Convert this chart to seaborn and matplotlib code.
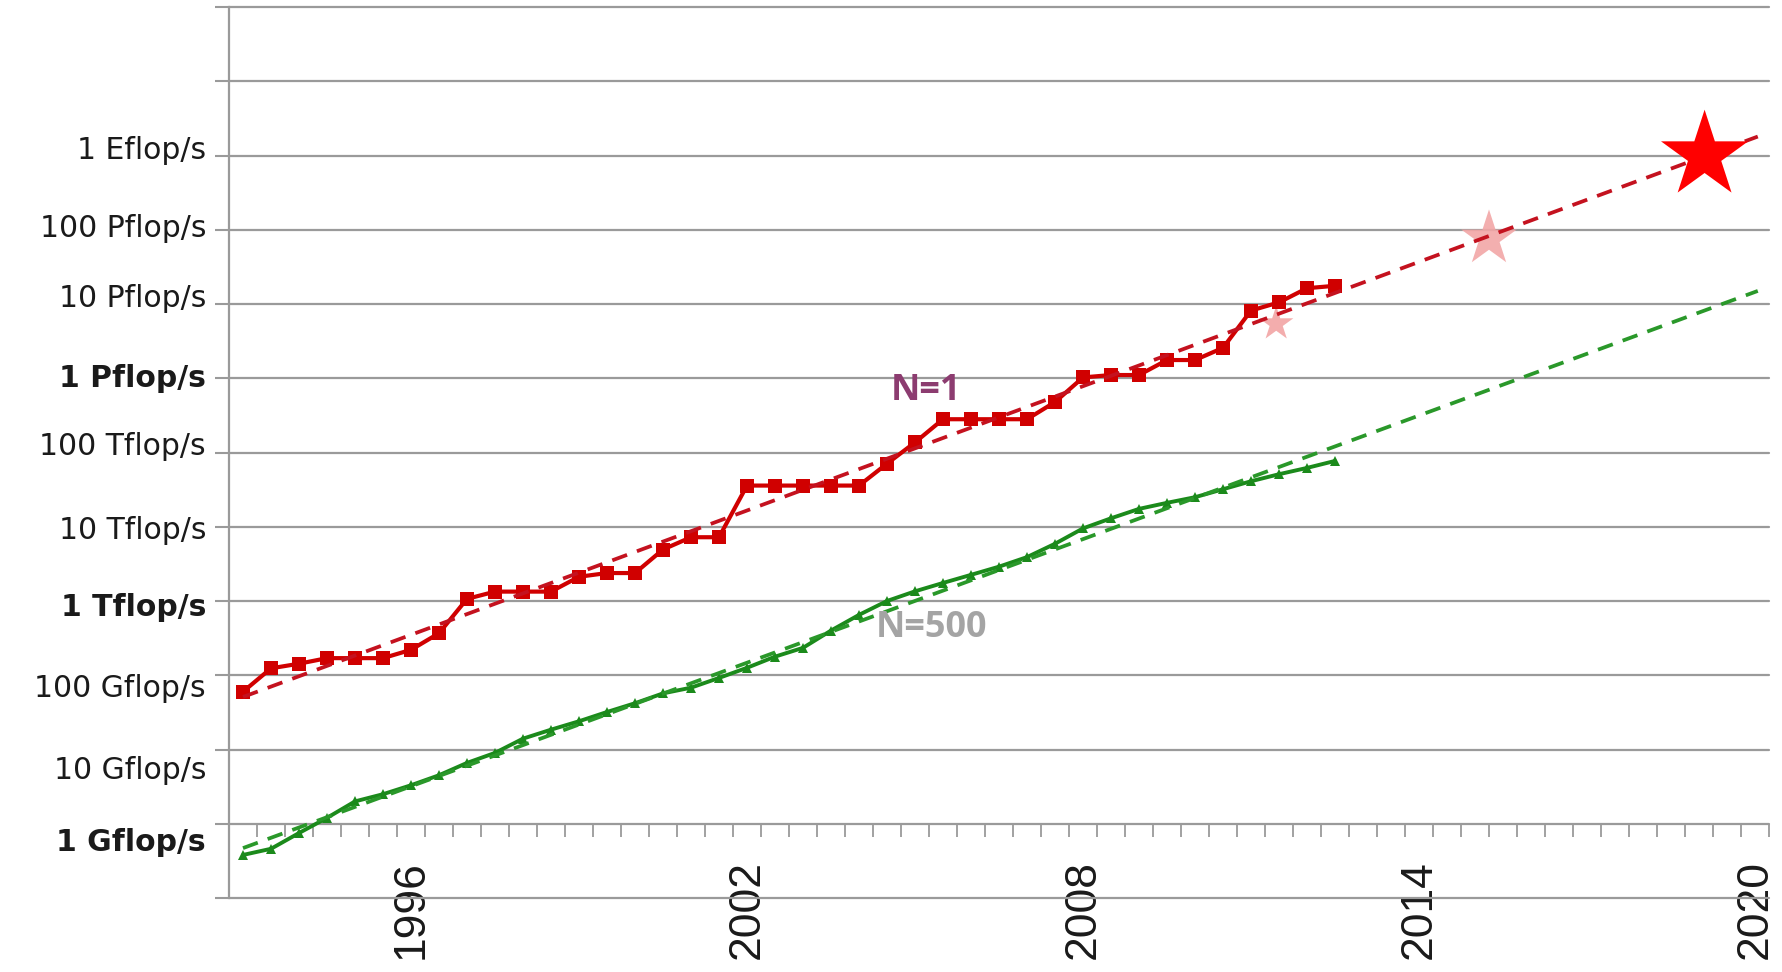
import matplotlib
matplotlib.use("Agg")
import matplotlib.pyplot as plt
from matplotlib.ticker import FixedLocator, NullLocator
from matplotlib.transforms import ScaledTranslation
import seaborn as sns

# TOP500 list editions (June list = .0, November list = .5)
list_dates = [
    1993.0, 1993.5, 1994.0, 1994.5, 1995.0, 1995.5, 1996.0, 1996.5,
    1997.0, 1997.5, 1998.0, 1998.5, 1999.0, 1999.5, 2000.0, 2000.5,
    2001.0, 2001.5, 2002.0, 2002.5, 2003.0, 2003.5, 2004.0, 2004.5,
    2005.0, 2005.5, 2006.0, 2006.5, 2007.0, 2007.5, 2008.0, 2008.5,
    2009.0, 2009.5, 2010.0, 2010.5, 2011.0, 2011.5, 2012.0, 2012.5,
]

# Rmax of the #1 system (Gflop/s)
n1_gflops = [
    60, 124, 143, 170, 170, 170, 220, 368,
    1068, 1338, 1338, 1338, 2121, 2379, 2379, 4938,
    7226, 7226, 35860, 35860, 35860, 35860, 35860, 70720,
    136800, 280600, 280600, 280600, 280600, 478200, 1026000, 1105000,
    1105000, 1759000, 1759000, 2566000, 8162000, 10510000, 16320000, 17590000,
]

# Rmax of the #500 system (Gflop/s)
n500_gflops = [
    0.38, 0.46, 0.75, 1.2, 2.0, 2.5, 3.3, 4.5,
    6.6, 9.0, 14, 18.5, 24, 32, 42, 57,
    68, 92, 126, 178, 234, 400, 650, 1000,
    1350, 1750, 2250, 2900, 3900, 5900, 9500, 13000,
    17400, 21000, 25000, 32000, 41000, 51000, 62000, 77000,
]

# Exponential trend lines (end points)
trend_dates = [1993.0, 2020.05]
n1_trend = [51, 1.8e9]
n500_trend = [0.47, 1.5e7]

# Projected milestones on the #1 trend
star_dates = [2011.45, 2015.25, 2019.1]
star_gflops = [5.4e6, 7.6e7, 1.0e9]

# Performance axis (Gflop/s)
perf_ticks = [0.1, 1, 10, 100, 1e3, 1e4, 1e5, 1e6, 1e7, 1e8, 1e9, 1e10, 1e11]
perf_labels = ["", "1 Gflop/s", "10 Gflop/s", "100 Gflop/s", "1 Tflop/s",
               "10 Tflop/s", "100 Tflop/s", "1 Pflop/s", "10 Pflop/s",
               "100 Pflop/s", "1 Eflop/s", "", ""]
bold_labels = {"1 Gflop/s", "1 Tflop/s", "1 Pflop/s"}

year_ticks = [1996, 2002, 2008, 2014, 2020]
year_labels = ["1996", "2002", "2008", "2014", "2020"]

# ---------------------------------------------------------------- style
sns.set_theme(style="white")
plt.rcParams["font.family"] = ["DejaVu Sans"]

RED = "#D00000"
RED_TREND = "#C4121F"
GREEN = "#1B8A1B"
GREEN_TREND = "#2A982A"
GRID = "#9A9A9A"
DASH = (0, (4.2, 2.8))

fig = plt.figure(figsize=(17.82, 9.72), dpi=100)
fig.patch.set_facecolor("white")
ax = fig.add_axes([229 / 1782, 1 - 898 / 972, 1540 / 1782, 891 / 972])
ax.set_facecolor("white")

# ---------------------------------------------------------------- data
sns.lineplot(x=list_dates, y=n500_gflops, ax=ax, color=GREEN, lw=2.8,
             marker="^", markersize=6.5, markeredgewidth=0, estimator=None,
             zorder=3)
sns.lineplot(x=trend_dates, y=n500_trend, ax=ax, color=GREEN_TREND, lw=2.7,
             linestyle=DASH, estimator=None, zorder=3.5)

sns.scatterplot(x=star_dates[:1], y=star_gflops[:1], ax=ax, marker="*",
                s=26 ** 2, color="#F2A4A4", edgecolor="none", alpha=0.9,
                zorder=3.8)
sns.scatterplot(x=star_dates[1:2], y=star_gflops[1:2], ax=ax, marker="*",
                s=42 ** 2, color="#F2A6A6", edgecolor="none", alpha=0.9,
                zorder=3.8)

sns.lineplot(x=list_dates, y=n1_gflops, ax=ax, color=RED, lw=3.0,
             marker="s", markersize=10, markeredgewidth=0, estimator=None,
             zorder=4)
sns.lineplot(x=trend_dates, y=n1_trend, ax=ax, color=RED_TREND, lw=2.7,
             linestyle=DASH, estimator=None, zorder=4.5)

sns.scatterplot(x=star_dates[2:], y=star_gflops[2:], ax=ax, marker="*",
                s=66 ** 2, color="#FF0000", edgecolor="none", zorder=5)

ax.text(2005.2, 5.1e5, "N=1", family="Open Sans", weight="bold",
        fontsize=26, color="#8C3C70", ha="center", va="baseline", zorder=6)
ax.text(2005.3, 330, "N=500", family="Open Sans", weight="bold",
        fontsize=26, color="#A4A4A4", ha="center", va="baseline", zorder=6)

# ---------------------------------------------------------------- axes
ax.set_yscale("log")
ax.set_ylim(0.1, 1e11)
ax.set_xlim(1992.75, 2020.25)
ax.set_xlabel("")
ax.set_ylabel("")

ax.yaxis.set_major_locator(FixedLocator(perf_ticks))
ax.yaxis.set_minor_locator(NullLocator())
ax.set_yticklabels(perf_labels)
ax.tick_params(axis="y", which="major", direction="out", length=10,
               width=1.5, color=GRID, pad=6.5, labelsize=21.5,
               labelcolor="#1a1a1a", left=True)
ax.yaxis.grid(True, color=GRID, lw=1.6)
ax.xaxis.grid(False)

# per-label vertical nudges (pixels, positive = down)
nudge_px = [0, 16, 18, 10, 4, 1, -9, -3, -9, -4, -8, 0, 0]
for lbl, dy in zip(ax.get_yticklabels(), nudge_px):
    if lbl.get_text() in bold_labels:
        lbl.set_fontweight("bold")
    lbl.set_transform(lbl.get_transform() +
                      ScaledTranslation(0, -dy / 100, fig.dpi_scale_trans))
for tick in ax.yaxis.get_major_ticks():
    tick.gridline.set_clip_on(False)

# category axis crosses at 1 Gflop/s; marks at every list boundary
ax.spines["bottom"].set_position(("data", 1))
ax.spines["bottom"].set_visible(False)
ax.xaxis.set_major_locator(FixedLocator(year_ticks))
ax.set_xticklabels(year_labels, rotation=90, family="Liberation Sans",
                   fontsize=32, color="#1a1a1a")
for lbl in ax.get_xticklabels():
    lbl.set_transform(lbl.get_transform() +
                      ScaledTranslation(0.05, 0, fig.dpi_scale_trans))
boundaries = [1993.25 + 0.5 * k for k in range(55)]
ax.xaxis.set_minor_locator(FixedLocator(boundaries))
ax.tick_params(axis="x", which="major", length=0, pad=26, bottom=True)
ax.tick_params(axis="x", which="minor", direction="out", length=9.4,
               width=1.3, color=GRID, bottom=True)

for side in ("top", "right"):
    ax.spines[side].set_visible(False)
ax.spines["left"].set_color(GRID)
ax.spines["left"].set_linewidth(1.6)

fig.savefig("out.png", dpi=100, facecolor="white")
